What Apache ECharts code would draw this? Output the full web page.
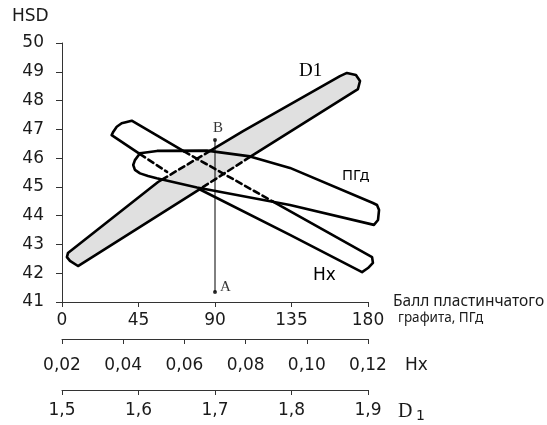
<!DOCTYPE html>
<html><head><meta charset="utf-8">
<script src="https://cdn.jsdelivr.net/npm/echarts@6/dist/echarts.min.js"></script>
<style>html,body{margin:0;padding:0;background:#fff}#c{width:547px;height:425px}</style>
</head><body><div id="c"></div>
<script>
// ---- axes / ticks ----
const hsdRange = [41, 50, 1];            // min, max, interval
const pgdTicks = [0, 45, 90, 135, 180];
const hxTicks = [0.02, 0.04, 0.06, 0.08, 0.10, 0.12];
const d1Ticks = [1.5, 1.6, 1.7, 1.8, 1.9];

// ---- D1 band (gray) : [ПГд, HSD] ----
const d1Band = [[9.4,42.25],[4.7,42.43],[2.9,42.56],[3.5,42.70],[56.5,45.17],[87.1,46.25],[106.5,46.94],[163.5,48.85],[167.6,48.96],[172.9,48.89],[175.3,48.68],[174.1,48.40]];
const d1Visible1 = [[81.8,44.95],[9.4,42.25],[4.7,42.43],[2.9,42.56],[3.5,42.70],[56.5,45.17],[58.8,45.25]];
const d1Visible2 = [[87.1,46.25],[106.5,46.94],[163.5,48.85],[167.6,48.96],[172.9,48.89],[175.3,48.68],[174.1,48.40],[110.6,46.04]];
const d1Hidden1 = [[58.8,45.25],[87.1,46.25]];
const d1Hidden2 = [[110.6,46.04],[81.8,44.95]];

// ---- Hx band ----
const hxVisible1 = [[45.9,46.14],[29.2,46.80],[30.2,46.92],[32.2,47.09],[35.1,47.21],[41.0,47.30],[71.8,46.23]];
const hxVisible2 = [[124.1,44.49],[182.4,42.56],[182.9,42.36],[180.0,42.18],[176.5,42.04],[134.1,43.33],[81.2,44.91]];
const hxHidden1 = [[71.8,46.23],[124.1,44.49]];
const hxHidden2 = [[45.9,46.14],[61.8,45.52]];

// ---- ПГд band ----
const pgdOutline = [[45.9,46.17],[55.9,46.25],[85.3,46.26],[110.6,46.06],[134.1,45.66],[182.9,44.44],[185.3,44.37],[186.5,44.20],[185.9,43.85],[183.5,43.68],[134.1,44.37],[79.4,44.98],[55.7,45.30],[50.6,45.38],[45.9,45.47],[42.9,45.59],[41.9,45.76],[42.9,45.93],[45.9,46.17]];

// ---- points A, B ----
const pointA = [90, 41.35];
const pointB = [90, 46.63];

const chart = echarts.init(document.getElementById('c'), null, {renderer:'canvas'});
const axisCol = '#333';
const txtCol = '#1a1a1a';
const sans = 'DejaVu Sans';

function strokeSeries(pts, dashed, w) {
  return {
    type: 'custom', data: [pts[0]], clip: false, silent: true, z: 3,
    xAxisIndex: 0, yAxisIndex: 0,
    renderItem: function (params, api) {
      return {
        type: 'polyline',
        shape: {points: pts.map(p => api.coord(p))},
        style: {stroke: '#000', fill: null, lineWidth: w || 2.6, lineDash: dashed ? [6, 4] : null, lineCap: 'round', lineJoin: 'round'}
      };
    }
  };
}
function baseX(min, max, interval, offset, margin, fmt) {
  return {
    type: 'value', min: min, max: max, interval: interval, position: 'bottom', offset: offset,
    axisLine: {show: true, onZero: false, lineStyle: {color: axisCol, width: 1}},
    axisTick: {show: true, length: 5, lineStyle: {color: axisCol}},
    splitLine: {show: false},
    axisLabel: {fontSize: 17, color: txtCol, fontFamily: sans, margin: margin, formatter: fmt, showMinLabel: true, showMaxLabel: true}
  };
}

const option = {
  animation: false,
  backgroundColor: '#fff',
  grid: {left: 62, top: 43, width: 306, height: 259, containLabel: false},
  xAxis: [
    baseX(pgdTicks[0], pgdTicks[pgdTicks.length-1], pgdTicks[1]-pgdTicks[0], 0, 10, v => String(v)),
    baseX(hxTicks[0], hxTicks[hxTicks.length-1], 0.02, 37, 18, v => v.toFixed(2).replace('.', ',')),
    baseX(d1Ticks[0], d1Ticks[d1Ticks.length-1], 0.1, 88, 12, v => v.toFixed(1).replace('.', ','))
  ],
  yAxis: {
    type: 'value', min: hsdRange[0], max: hsdRange[1], interval: hsdRange[2],
    axisLine: {show: true, onZero: false, lineStyle: {color: axisCol, width: 1}},
    axisTick: {show: true, length: 6, lineStyle: {color: axisCol}},
    splitLine: {show: false},
    axisLabel: {fontSize: 17, color: txtCol, fontFamily: sans, margin: 18}
  },
  series: [
    {
      type: 'custom', data: [[90, 45]], clip: false, silent: true, z: 2,
      renderItem: function (params, api) {
        return {type: 'polygon', shape: {points: d1Band.map(p => api.coord(p))}, style: {fill: '#e0e0e0', stroke: 'none'}};
      }
    },
    strokeSeries(d1Visible1, false), strokeSeries(d1Visible2, false),
    strokeSeries(d1Hidden1, true), strokeSeries(d1Hidden2, true),
    strokeSeries(hxVisible1, false), strokeSeries(hxVisible2, false),
    strokeSeries(hxHidden1, true), strokeSeries(hxHidden2, true),
    strokeSeries(pgdOutline, false),
    strokeSeries([pointB, pointA], false, 1),
    {
      type: 'scatter', data: [
        {value: pointA, label: {formatter: 'A', position: 'right', offset: [1, -5]}},
        {value: pointB, label: {formatter: 'B', position: 'top', offset: [3, 0]}}
      ],
      symbolSize: 4, itemStyle: {color: '#000'}, z: 5, silent: true,
      label: {show: true, fontFamily: 'Liberation Serif', fontSize: 15, color: '#000', distance: 2}
    }
  ],
  graphic: [
    {type: 'text', left: 12, top: 8, style: {text: 'HSD', font: '17px "DejaVu Sans"', fill: txtCol}},
    {type: 'text', left: 299, top: 62, style: {text: 'D1', font: '19px "Liberation Serif"', fill: '#000'}},
    {type: 'text', left: 342, top: 168, style: {text: 'ПГд', font: '15px "Noto Sans"', fill: '#000'}},
    {type: 'text', left: 313, top: 267, style: {text: 'Hx', font: '17px "DejaVu Sans"', fill: '#000'}},
    {type: 'text', left: 393, top: 294, style: {text: 'Балл пластинчатого', font: '15.5px "Noto Sans"', fill: txtCol}},
    {type: 'text', left: 398, top: 311, style: {text: 'графита, ПГд', font: '13.5px "Noto Sans"', fill: txtCol}},
    {type: 'text', left: 405, top: 357, style: {text: 'Hx', font: '17px "DejaVu Sans"', fill: txtCol}},
    {type: 'text', left: 398, top: 402, style: {text: 'D', font: '20px "Liberation Serif"', fill: txtCol}},
    {type: 'text', left: 416, top: 409, style: {text: '1', font: '14px "DejaVu Sans"', fill: txtCol}}
  ]
};
chart.setOption(option);
</script>
</body></html>
